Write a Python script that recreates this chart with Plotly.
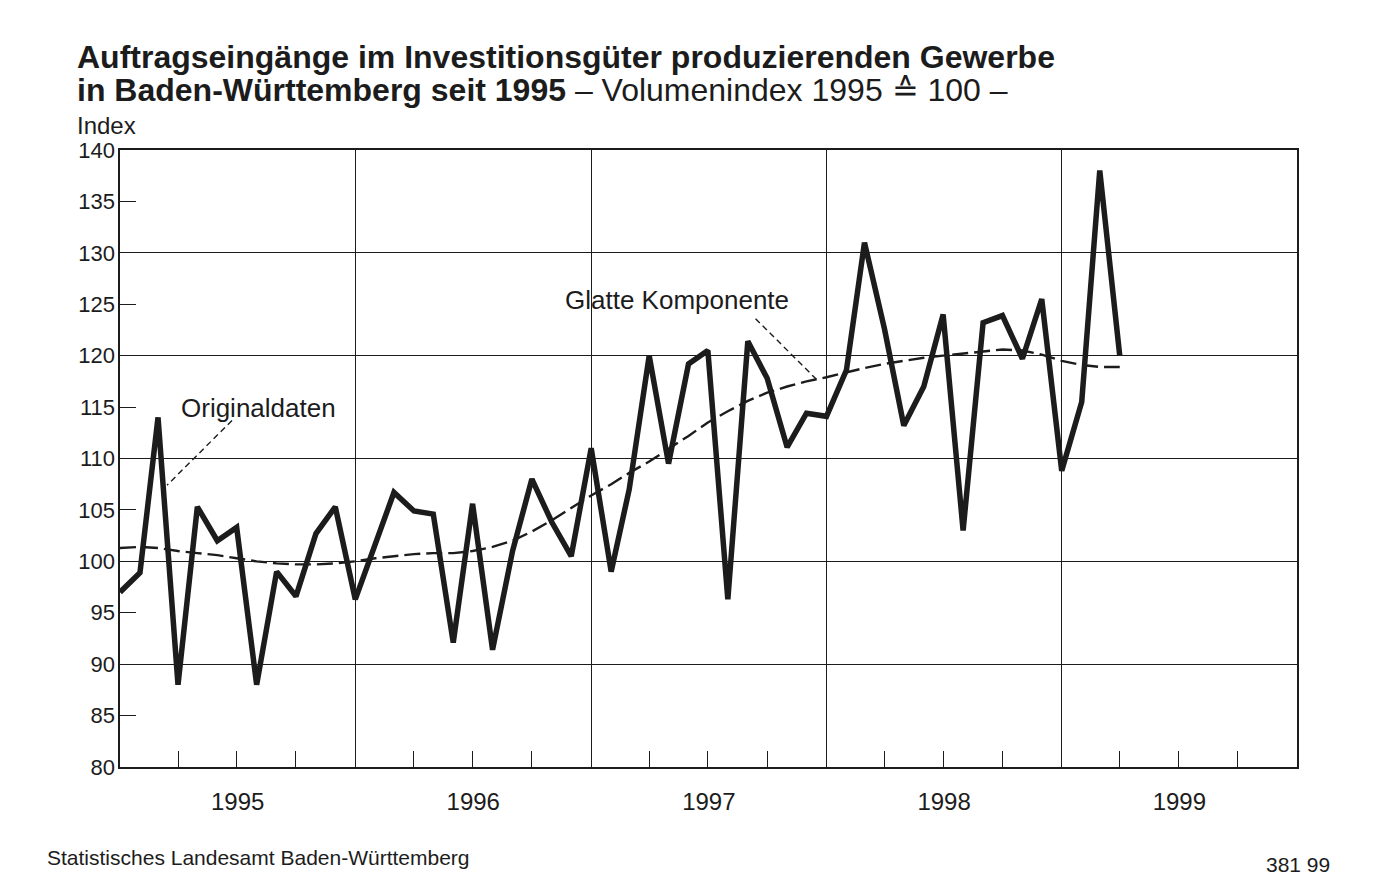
import pandas as pd
import plotly.graph_objects as go

# ---- data (monthly, Jan 1995 - Apr 1999) ----
start_month = "1995-01-01"
n_months = 52
original = [97.0, 98.9, 114.0, 88.0, 105.3, 102.0, 103.3, 88.0, 99.0, 96.6, 102.7, 105.3,
            96.3, 101.6, 106.7, 104.9, 104.6, 92.1, 105.6, 91.4, 101.0, 108.0, 103.8, 100.5,
            111.0, 99.0, 107.0, 120.0, 109.5, 119.2, 120.5, 96.3, 121.4, 117.8, 111.1, 114.4,
            114.1, 118.6, 131.0, 122.6, 113.2, 117.0, 124.0, 103.0, 123.2, 123.9, 119.7, 125.5,
            108.8, 115.5, 138.0, 120.0]
smooth = [101.3, 101.4, 101.3, 101.0, 100.8, 100.6, 100.3, 100.0, 99.8, 99.7, 99.7, 99.8,
          100.0, 100.3, 100.5, 100.7, 100.8, 100.8, 101.0, 101.4, 102.0, 102.9, 104.0, 105.2,
          106.4, 107.5, 108.6, 109.7, 110.9, 112.2, 113.5, 114.6, 115.6, 116.4, 117.0, 117.5,
          117.9, 118.4, 118.8, 119.2, 119.5, 119.8, 120.0, 120.2, 120.4, 120.6, 120.5, 120.1,
          119.5, 119.1, 118.9, 118.9]
y_range = [80, 140]
x_range = ["1995-01-01", "2000-01-01"]

months = pd.date_range(start_month, periods=n_months, freq="MS")

def mdate(idx):
    """fractional month index -> date string"""
    base = pd.Timestamp(start_month)
    whole = int(idx)
    d = base + pd.DateOffset(months=whole)
    nxt = base + pd.DateOffset(months=whole + 1)
    return (d + (nxt - d) * (idx - whole)).strftime("%Y-%m-%d %H:%M")

INK = "#1c1c1c"
FONT = "Liberation Sans, Arial, sans-serif"

fig = go.Figure()
fig.add_trace(go.Scatter(x=months, y=smooth, mode="lines",
                         line=dict(color=INK, width=2.4, dash="16px,6px"),
                         hoverinfo="skip", showlegend=False))
fig.add_trace(go.Scatter(x=months, y=original, mode="lines",
                         line=dict(color=INK, width=5.5),
                         showlegend=False))
# empty overlay axis for 5-step labels
fig.add_trace(go.Scatter(x=[months[0]], y=[None], yaxis="y2", showlegend=False,
                         hoverinfo="skip"))

fig.update_layout(
    width=1375, height=873, autosize=False,
    paper_bgcolor="white", plot_bgcolor="white",
    margin=dict(l=112, r=86, t=142, b=114),
    font=dict(family=FONT, color=INK, size=22),
    xaxis=dict(type="date", range=x_range, dtick="M12", tick0="1995-01-01",
               tickformat="%Y", ticklabelmode="period",
               showgrid=True, gridcolor=INK, gridwidth=1.3,
               ticks="", showline=True, mirror=True, linecolor=INK, linewidth=1.6,
               tickfont=dict(size=24, color=INK), ticklabelstandoff=12,
               minor=dict(dtick="M3", ticks="inside", ticklen=16, tickcolor=INK,
                          tickwidth=1.3, showgrid=False),
               zeroline=False),
    yaxis=dict(range=y_range, dtick=10, tick0=80, showgrid=True, gridcolor=INK,
               gridwidth=1.3, showticklabels=False, ticks="",
               showline=True, mirror=True, linecolor=INK, linewidth=1.6, zeroline=False),
    yaxis2=dict(range=y_range, dtick=5, tick0=80, overlaying="y", side="left",
                showgrid=False, ticks="inside", ticklen=16, tickcolor=INK, tickwidth=1.3,
                tickfont=dict(size=22, color=INK), ticklabelstandoff=4,
                zeroline=False, showline=False),
)

# leader lines (dashed)
fig.add_shape(type="line", xref="x", yref="y", x0=mdate(5.76), y0=113.7,
              x1=mdate(2.45), y1=107.4, line=dict(color=INK, width=1.4, dash="6px,4px"))
fig.add_shape(type="line", xref="x", yref="y", x0=mdate(32.4), y0=123.6,
              x1=mdate(35.6), y1=117.5, line=dict(color=INK, width=1.4, dash="6px,4px"))

fig.add_annotation(x=mdate(3.05), y=114.9, xref="x", yref="y", text="Originaldaten",
                   showarrow=False, xanchor="left", yanchor="middle", font=dict(size=26))
fig.add_annotation(x=mdate(22.6), y=125.4, xref="x", yref="y", text="Glatte Komponente",
                   showarrow=False, xanchor="left", yanchor="middle", font=dict(size=26))

# titles
fig.add_annotation(x=-0.0385, y=1.150, xref="paper", yref="paper", xanchor="left",
                   yanchor="middle", showarrow=False,
                   text="<b>Auftragseingänge im Investitionsgüter produzierenden Gewerbe</b>",
                   font=dict(size=32))
fig.add_annotation(x=-0.0385, y=1.097, xref="paper", yref="paper", xanchor="left",
                   yanchor="middle", showarrow=False,
                   text="<b>in Baden-Württemberg seit 1995</b> – Volumenindex 1995 ≙ 100 –",
                   font=dict(size=32))
fig.add_annotation(x=-0.0385, y=1.040, xref="paper", yref="paper", xanchor="left",
                   yanchor="middle", showarrow=False, text="Index", font=dict(size=24))
fig.add_annotation(x=-0.064, y=-0.147, xref="paper", yref="paper", xanchor="left",
                   yanchor="middle", showarrow=False,
                   text="Statistisches Landesamt Baden-Württemberg", font=dict(size=21))
fig.add_annotation(x=1.0297, y=-0.158, xref="paper", yref="paper", xanchor="right",
                   yanchor="middle", showarrow=False, text="381 99", font=dict(size=21))

fig.write_html("out.html")
